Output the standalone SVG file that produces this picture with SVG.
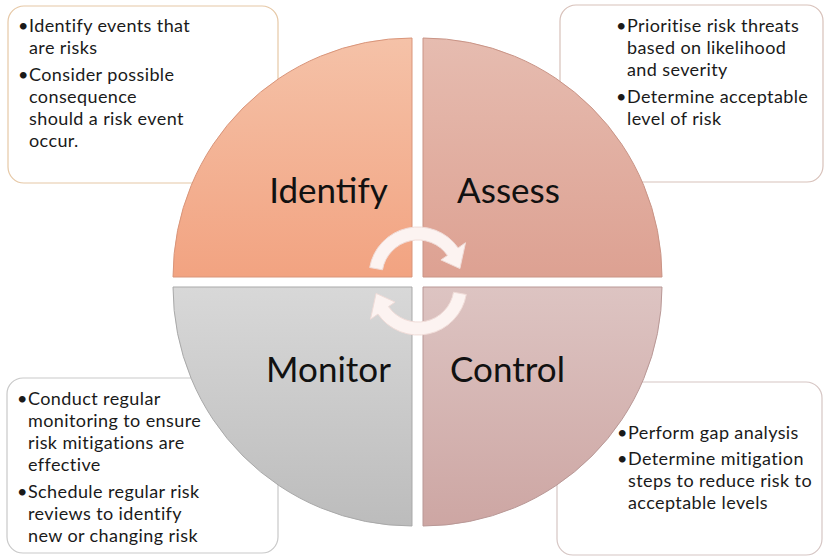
<svg xmlns="http://www.w3.org/2000/svg" width="824" height="557" viewBox="0 0 824 557">
<defs>
<linearGradient id="gI" x1="0" y1="0" x2="0" y2="1"><stop offset="0" stop-color="#f5c2a8"/><stop offset="1" stop-color="#f2a381"/></linearGradient>
<linearGradient id="gA" x1="0" y1="0" x2="0" y2="1"><stop offset="0" stop-color="#e6bcb0"/><stop offset="1" stop-color="#dda192"/></linearGradient>
<linearGradient id="gM" x1="0" y1="0" x2="0" y2="1"><stop offset="0" stop-color="#d8d8d8"/><stop offset="1" stop-color="#bcbcbc"/></linearGradient>
<linearGradient id="gC" x1="0" y1="0" x2="0" y2="1"><stop offset="0" stop-color="#ddc4c2"/><stop offset="1" stop-color="#cda6a3"/></linearGradient>
</defs>
<style>
.box{fill:#ffffff;stroke-width:1.2}
.q{stroke-width:1}
.lbl{font-family:Lato,"Liberation Sans",sans-serif;font-size:35px;fill:#111111;text-anchor:middle}
.t{font-family:Lato,"Liberation Sans",sans-serif;font-size:18px;letter-spacing:0.4px;fill:#1a1a1a}
.arr{fill:#fcf3f1;stroke:#f0dcd8;stroke-width:1}
</style>
<rect width="824" height="557" fill="#ffffff"/>
<g id="box-identify">
<rect class="box" x="8" y="6" width="270" height="177" rx="16" stroke="#e6c8a6"/>
<text class="t"><tspan x="18" y="32">•</tspan><tspan x="29" y="32">Identify events that</tspan><tspan x="29" y="54">are risks</tspan><tspan x="18" y="81">•</tspan><tspan x="29" y="81">Consider possible</tspan><tspan x="29" y="103">consequence</tspan><tspan x="29" y="125">should a risk event</tspan><tspan x="29" y="147">occur.</tspan></text>
</g>
<g id="box-assess">
<rect class="box" x="560" y="5" width="263" height="177" rx="16" stroke="#d8c1ba"/>
<text class="t"><tspan x="616" y="32">•</tspan><tspan x="627" y="32">Prioritise risk threats</tspan><tspan x="627" y="54">based on likelihood</tspan><tspan x="627" y="76">and severity</tspan><tspan x="616" y="103">•</tspan><tspan x="627" y="103">Determine acceptable</tspan><tspan x="627" y="125">level of risk</tspan></text>
</g>
<g id="box-monitor">
<rect class="box" x="7" y="378" width="271" height="175" rx="16" stroke="#c9c9c9"/>
<text class="t"><tspan x="17" y="405">•</tspan><tspan x="28" y="405">Conduct regular</tspan><tspan x="28" y="427">monitoring to ensure</tspan><tspan x="28" y="449">risk mitigations are</tspan><tspan x="28" y="471">effective</tspan><tspan x="17" y="498">•</tspan><tspan x="28" y="498">Schedule regular risk</tspan><tspan x="28" y="520">reviews to identify</tspan><tspan x="28" y="542">new or changing risk</tspan></text>
</g>
<g id="box-control">
<rect class="box" x="557" y="382" width="265" height="173" rx="16" stroke="#d6c6c4"/>
<text class="t"><tspan x="617" y="439">•</tspan><tspan x="628" y="439">Perform gap analysis</tspan><tspan x="617" y="465">•</tspan><tspan x="628" y="465">Determine mitigation</tspan><tspan x="628" y="487">steps to reduce risk to</tspan><tspan x="628" y="509">acceptable levels</tspan></text>
</g>
<g id="identify">
<path class="q" d="M412,277 L173,277 A239,239 0 0 1 412,38 Z" fill="url(#gI)" stroke="#d9957a"/>
<text class="lbl" x="328.5" y="203">Identify</text>
</g>
<g id="assess">
<path class="q" d="M423,277 L423,38 A239,239 0 0 1 662,277 Z" fill="url(#gA)" stroke="#c99486"/>
<text class="lbl" x="508.5" y="203">Assess</text>
</g>
<g id="monitor">
<path class="q" d="M412,287 L412,526 A239,239 0 0 1 173,287 Z" fill="url(#gM)" stroke="#a9a9a9"/>
<text class="lbl" x="328.5" y="382">Monitor</text>
</g>
<g id="control">
<path class="q" d="M423,287 L662,287 A239,239 0 0 1 423,526 Z" fill="url(#gC)" stroke="#b99896"/>
<text class="lbl" x="507.5" y="382">Control</text>
</g>
<g id="connectors">
<path class="arr" d="M369.7,267.5 A49,49 0 0 1 458.1,247.9 L465.5,242.7 L459.9,268.6 L440.9,259.9 L447.5,255.4 A36,36 0 0 0 382.5,269.8 Z"/>
<path class="arr" transform="rotate(180 418 281)" d="M369.7,267.5 A49,49 0 0 1 458.1,247.9 L465.5,242.7 L459.9,268.6 L440.9,259.9 L447.5,255.4 A36,36 0 0 0 382.5,269.8 Z"/>
</g>
</svg>
